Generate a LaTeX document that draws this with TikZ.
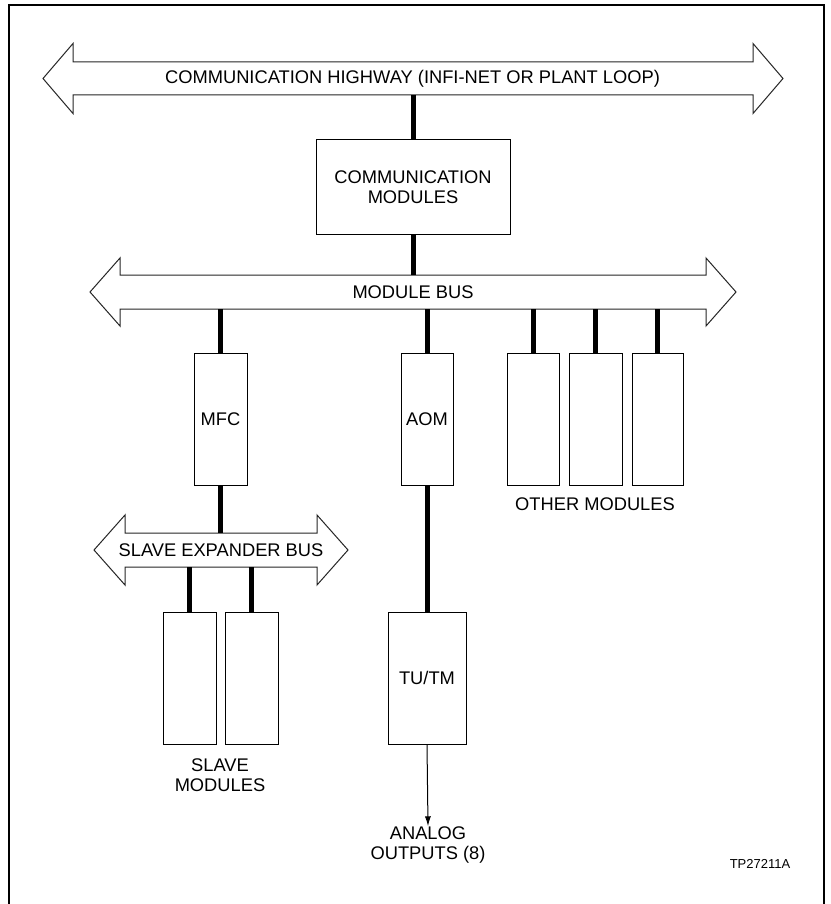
\documentclass[tikz,border=0pt]{standalone}
\usepackage{fontspec}
\setmainfont{Liberation Sans}
\usetikzlibrary{arrows.meta}
\begin{document}
\begin{tikzpicture}[x=1pt,y=-1pt,
  lbl/.style={font=\fontsize{18.3}{20.5}\selectfont, inner sep=0pt, align=center},
  modbox/.style={draw=black, line width=1pt, fill=white, inner sep=0pt, font=\fontsize{18.3}{20.5}\selectfont, align=center},
  busline/.style={line width=5pt},
  busshape/.style={draw=black!85, line width=1pt, fill=white, line join=miter},
  frame/.style={line width=1.6pt}]
\useasboundingbox (0,0) rectangle (830,904);
\fill[white] (0,0) rectangle (830,904);
\draw[frame] (9,908) -- (9,5) -- (824,5) -- (824,908);

% communication highway
\draw[busshape] (43,78.5) -- (73,43.5) -- (73,62) -- (753,62) -- (753,43.5) -- (783,78.5)
  -- (753,113.5) -- (753,95) -- (73,95) -- (73,113.5) -- cycle;
\node[lbl] (hwy) at (412.5,78.5) {COMMUNICATION HIGHWAY (INFI-NET OR PLANT LOOP)};
\coordinate (hwyB) at (413,95);

% module bus
\draw[busshape] (90,292) -- (120,258) -- (120,275) -- (706,275) -- (706,258) -- (736,292)
  -- (706,326) -- (706,309) -- (120,309) -- (120,326) -- cycle;
\node[lbl] (mbus) at (413,292) {MODULE BUS};
\coordinate (mbusT) at (413,275);
\coordinate (mbusMFC) at (220.5,309);
\coordinate (mbusAOM) at (427,309);
\coordinate (mbusO1) at (533,309);
\coordinate (mbusO2) at (595.5,309);
\coordinate (mbusO3) at (657.5,309);

% slave expander bus
\draw[busshape] (94,550) -- (125,515) -- (125,533) -- (317,533) -- (317,515) -- (348,550)
  -- (317,585) -- (317,567) -- (125,567) -- (125,585) -- cycle;
\node[lbl] (sbus) at (221,550) {SLAVE EXPANDER BUS};
\coordinate (sbusT) at (220.5,533);
\coordinate (sbusS1) at (189.5,567);
\coordinate (sbusS2) at (251.5,567);

% boxes
\node[modbox, minimum width=194pt, minimum height=94pt] (comm) at (413,187) {COMMUNICATION\\MODULES};
\node[modbox, minimum width=53pt, minimum height=132pt] (mfc) at (220.5,419) {MFC};
\node[modbox, minimum width=52pt, minimum height=132pt] (aom) at (427,419) {AOM};
\node[modbox, minimum width=52pt, minimum height=132pt] (o1) at (533,419) {};
\node[modbox, minimum width=53pt, minimum height=132pt] (o2) at (595.5,419) {};
\node[modbox, minimum width=51pt, minimum height=132pt] (o3) at (657.5,419) {};
\node[modbox, minimum width=53pt, minimum height=132pt] (s1) at (189.5,678) {};
\node[modbox, minimum width=53pt, minimum height=132pt] (s2) at (251.5,678) {};
\node[modbox, minimum width=78pt, minimum height=132pt] (tutm) at (427,678) {TU/TM};

% connectors
\draw[busline] (hwyB) -- (comm.north);
\draw[busline] (comm.south) -- (mbusT);
\draw[busline] (mbusMFC) -- (mfc.north);
\draw[busline] (mbusAOM) -- (aom.north);
\draw[busline] (mbusO1) -- (o1.north);
\draw[busline] (mbusO2) -- (o2.north);
\draw[busline] (mbusO3) -- (o3.north);
\draw[busline] (mfc.south) -- (sbusT);
\draw[busline] (sbusS1) -- (s1.north);
\draw[busline] (sbusS2) -- (s2.north);
\draw[busline] (aom.south) -- (tutm.north);

% labels
\node[lbl] (other) at (595,504) {OTHER MODULES};
\node[lbl] (slave) at (220,775) {SLAVE\\MODULES};
\node[lbl] (analog) at (428,845) {ANALOG\\OUTPUTS (8)};
\node[font=\fontsize{13}{15}\selectfont, inner sep=0pt] (tp) at (760,864) {TP27211A};

\draw[line width=1pt, -{Latex[length=10pt,width=6pt]}] (tutm.south) -- (analog.north);
\end{tikzpicture}
\end{document}
